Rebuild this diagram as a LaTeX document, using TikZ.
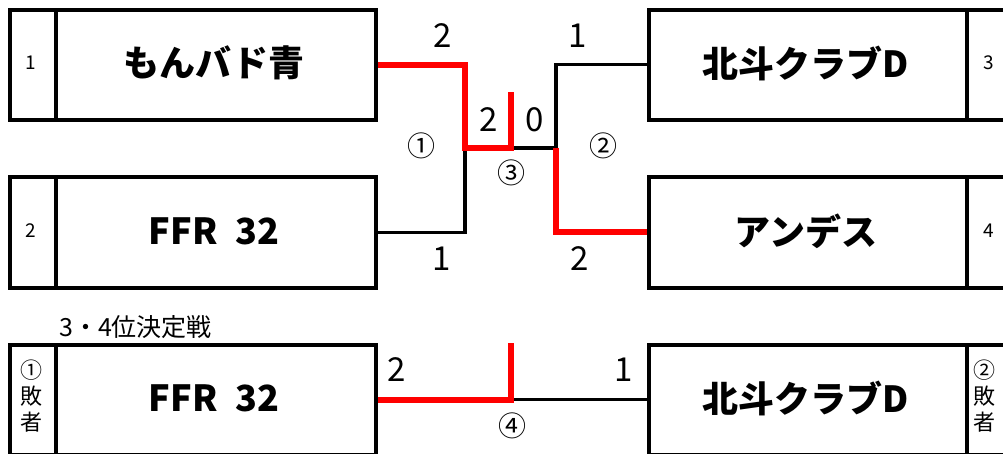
\documentclass[tikz,border=0pt]{standalone}
\usepackage{fontspec}
\newfontfamily\jp{Noto Sans CJK JP}
\begin{document}
\begin{tikzpicture}[x=1pt,y=-1pt,
  box/.style={draw=black,line width=3.6pt,inner sep=0pt,anchor=north west},
  team/.style={font=\jp\bfseries\fontsize{36}{40}\selectfont},
  seed/.style={font=\jp\fontsize{19}{21}\selectfont},
  score/.style={font=\jp\fontsize{33}{35}\selectfont},
  circ/.style={font=\jp\fontsize{28}{30}\selectfont},
  loser/.style={font=\jp\fontsize{22}{26}\selectfont,align=center},
  blk/.style={draw=black,line width=3.2pt},
  win/.style={draw=red,line width=6pt}]
\useasboundingbox (0,0) rectangle (1003,453);
% boxes
\node[box,minimum width=46pt,minimum height=110pt] (s1) at (8,8) {};
\node[box,minimum width=320pt,minimum height=110pt] (t1) at (54,8) {};
\node[box,minimum width=46pt,minimum height=111pt] (s2) at (8,175) {};
\node[box,minimum width=320pt,minimum height=111pt] (t2) at (54,175) {};
\node[box,minimum width=318pt,minimum height=110pt] (t3) at (647,8) {};
\node[box,minimum width=50pt,minimum height=110pt] (s3) at (965,8) {};
\node[box,minimum width=318pt,minimum height=111pt] (t4) at (647,175) {};
\node[box,minimum width=50pt,minimum height=111pt] (s4) at (965,175) {};
\node[box,minimum width=46pt,minimum height=110pt] (s5) at (8,343) {};
\node[box,minimum width=320pt,minimum height=110pt] (t5) at (54,343) {};
\node[box,minimum width=318pt,minimum height=110pt] (t6) at (647,343) {};
\node[box,minimum width=50pt,minimum height=110pt] (s6) at (965,343) {};
% texts
\node[team] (n1) at (214,63) {もんバド青};
\node[team] (n2) at (214,231) {FFR\hspace{18pt}32};
\node[team] (n3) at (806,63) {北斗クラブD};
\node[team] (n4) at (806,231) {アンデス};
\node[team] (n5) at (214,398) {FFR\hspace{18pt}32};
\node[team] (n6) at (806,398) {北斗クラブD};
\node[seed] (k1) at (31,63) {1};
\node[seed] (k2) at (31,231) {2};
\node[seed] (k3) at (989,63) {3};
\node[seed] (k4) at (989,231) {4};
\node[loser] (l1) at (31,396) {①\\敗\\者};
\node[loser] (l2) at (984,396) {②\\敗\\者};
\node[font=\jp\fontsize{25}{27}\selectfont,anchor=west,inner sep=0pt] (ttl) at (59,327) {3・4位決定戦};
% connector points
\coordinate (m1) at (465,148);
\coordinate (m3) at (511,148);
\coordinate (m2) at (556,148);
\coordinate (u3) at (511,92);
\coordinate (u4) at (511,343);
\coordinate (m4) at (u4 |- t5.east);
% black connectors
\draw[blk] (t2.east) -| (m1);
\draw[blk] (m3) -- (m2);
\draw[blk] (m2) |- (t3.west);
\draw[blk] (m4) -- (t6.west);
% red winners
\draw[win] (t1.east) -| (m1) -- (m3) -- (u3);
\draw[win] (m2) |- (t4.west);
\draw[win] (t5.east) -| (u4);
% scores
\node[score] (a1) at (443,36) {2};
\node[score] (a2) at (578,36) {1};
\node[score] (a3) at (489,120) {2};
\node[score] (a4) at (535,120) {0};
\node[score] (a5) at (442,259) {1};
\node[score] (a6) at (580,259) {2};
\node[score] (a7) at (397,370) {2};
\node[score] (a8) at (624,370) {1};
\node[circ] (c1) at (421,146) {①};
\node[circ] (c2) at (603,146) {②};
\node[circ] (c3) at (511,173) {③};
\node[circ] (c4) at (512,426) {④};
\end{tikzpicture}
\end{document}
